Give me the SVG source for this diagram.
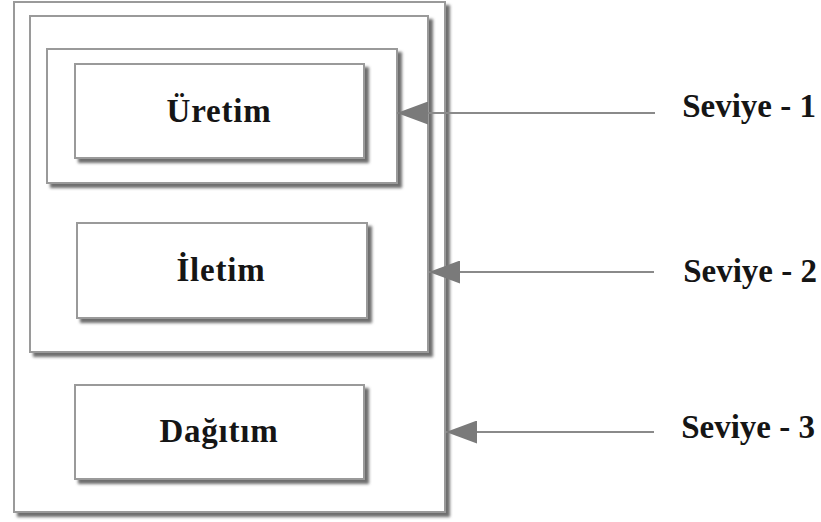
<svg xmlns="http://www.w3.org/2000/svg" width="821" height="522" viewBox="0 0 821 522">
  <defs>
    <filter id="shadow" x="-10%" y="-10%" width="130%" height="130%">
      <feDropShadow dx="4" dy="4" stdDeviation="1.6" flood-color="#666666" flood-opacity="0.95"/>
    </filter>
    <marker id="arrow" markerUnits="userSpaceOnUse" markerWidth="31" markerHeight="23" viewBox="0 0 31 23" refX="31" refY="11.5" orient="auto">
      <path d="M0,0 L31,11.5 L0,23 Z" fill="#7a7a7a"/>
    </marker>
    <style>
      .box { fill: #ffffff; stroke: #9a9a9a; stroke-width: 2; filter: url(#shadow); }
      .label { font-family: "Liberation Serif", "Times New Roman", serif; font-weight: bold; font-size: 33px; letter-spacing: 0.8px; fill: #151515; text-anchor: middle; }
      .level { font-family: "Liberation Serif", "Times New Roman", serif; font-weight: bold; font-size: 33px; fill: #151515; text-anchor: end; }
      .conn { stroke: #8a8a8a; stroke-width: 2; fill: none; marker-end: url(#arrow); }
    </style>
  </defs>
  <rect width="821" height="522" fill="#ffffff"/>
  <g id="outer">
    <rect class="box" x="14" y="2" width="431" height="510"/>
  </g>
  <g id="level2">
    <rect class="box" x="30" y="16" width="398" height="336"/>
  </g>
  <g id="level1">
    <rect class="box" x="47" y="49" width="350" height="134"/>
  </g>
  <g id="uretim">
    <rect class="box" x="75" y="64" width="289" height="94"/>
    <text class="label" x="219" y="122">Üretim</text>
  </g>
  <g id="iletim">
    <rect class="box" x="77" y="223" width="290" height="95"/>
    <text class="label" x="221" y="281">İletim</text>
  </g>
  <g id="dagitim">
    <rect class="box" x="75" y="385" width="289" height="94"/>
    <text class="label" x="219" y="442">Dağıtım</text>
  </g>
  <g id="connectors">
    <line class="conn" x1="655" y1="113" x2="397" y2="113"/>
    <line class="conn" x1="654" y1="272" x2="429" y2="272"/>
    <line class="conn" x1="654" y1="432" x2="446" y2="432"/>
  </g>
  <g id="levels">
    <text class="level" x="816" y="117">Seviye - 1</text>
    <text class="level" x="817" y="282">Seviye - 2</text>
    <text class="level" x="815" y="438">Seviye - 3</text>
  </g>
</svg>
